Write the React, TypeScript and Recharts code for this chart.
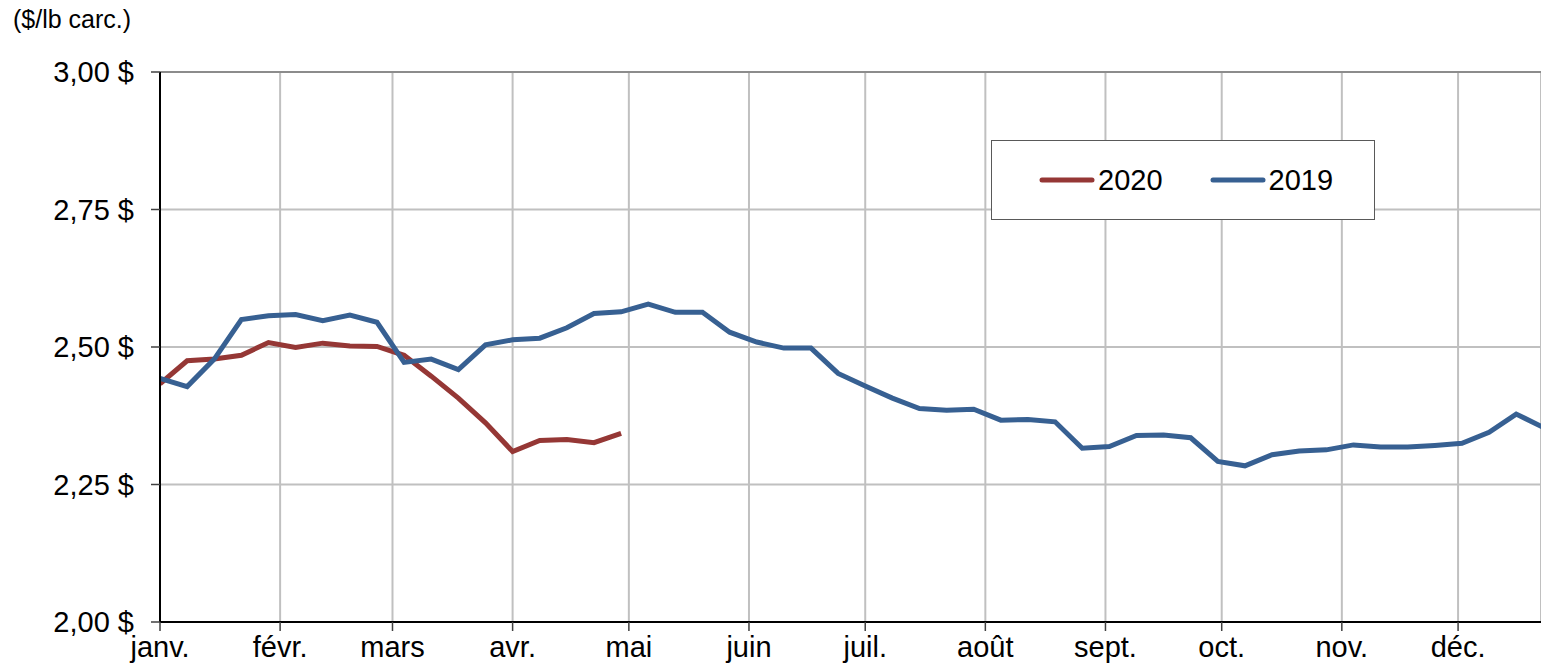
import { LineChart, Line, XAxis, YAxis, CartesianGrid, Legend, ReferenceLine } from 'recharts';

// day offsets (from Jan 1) of each month start, and their labels
const monthTicks = [0, 31, 60, 91, 121, 152, 182, 213, 244, 274, 305, 335];
const monthLabels = ['janv.', 'févr.', 'mars', 'avr.', 'mai', 'juin', 'juil.', 'août', 'sept.', 'oct.', 'nov.', 'déc.'];

const yTicks = [2, 2.25, 2.5, 2.75, 3];

// weekly prices ($/lb carcass)
const prices2019 = [
  2.443, 2.428, 2.478, 2.55, 2.557, 2.559, 2.548, 2.558, 2.545, 2.472, 2.478, 2.459, 2.504,
  2.513, 2.516, 2.535, 2.561, 2.564, 2.578, 2.563, 2.563, 2.527, 2.509, 2.498, 2.498, 2.452,
  2.429, 2.407, 2.388, 2.385, 2.387, 2.367, 2.368, 2.364, 2.316, 2.319, 2.339, 2.34, 2.335,
  2.292, 2.284, 2.304, 2.311, 2.313, 2.322, 2.318, 2.318, 2.321, 2.325, 2.345, 2.378, 2.354,
];

const prices2020 = [
  2.433, 2.475, 2.478, 2.485, 2.508, 2.499, 2.507, 2.502, 2.501, 2.485, 2.447, 2.407, 2.362,
  2.31, 2.33, 2.332, 2.326, 2.343,
];

const legendOrder = ['2020', '2019'];

const WEEK = 7;
const FONT = '"Liberation Sans", Arial, sans-serif';
const RED = '#953735';
const BLUE = '#376092';

const data = prices2019.map((v, i) => ({
  day: i * WEEK,
  y2019: v,
  y2020: i < prices2020.length ? prices2020[i] : null,
}));

const formatPrice = (v: number) => v.toFixed(2).replace('.', ',') + ' $';
const formatMonth = (d: number) => monthLabels[monthTicks.indexOf(d)] ?? '';

function LegendBox({ payload }: any) {
  const items = [...(payload || [])].sort(
    (a: any, b: any) => legendOrder.indexOf(a.value) - legendOrder.indexOf(b.value)
  );
  return (
    <div
      style={{
        width: 384,
        height: 80,
        boxSizing: 'border-box',
        border: '1px solid #595959',
        background: '#fff',
        display: 'flex',
        alignItems: 'center',
        paddingLeft: 46,
        fontFamily: FONT,
        fontSize: 29,
        color: '#000',
      }}
    >
      {items.map((item: any) => (
        <div key={item.value} style={{ display: 'flex', alignItems: 'center', marginRight: 46 }}>
          <svg width={58} height={8} style={{ marginRight: 2 }}>
            <line x1={4} y1={4} x2={54} y2={4} stroke={item.color} strokeWidth={5} strokeLinecap="round" />
          </svg>
          <span>{item.value}</span>
        </div>
      ))}
    </div>
  );
}

export default function App() {
  return (
    <div style={{ position: 'absolute', left: 0, top: 0, width: 1541, height: 666, fontFamily: FONT, background: '#fff' }}>
      <div style={{ position: 'absolute', left: 13, top: 4, fontSize: 25, color: '#000', lineHeight: '30px' }}>
        ($/lb carc.)
      </div>
      <LineChart width={1541} height={666} data={data} margin={{ top: 72, right: 0, bottom: 0, left: 0 }}>
        <CartesianGrid stroke="#c0c0c0" strokeWidth={2} />
        <XAxis
          dataKey="day"
          type="number"
          domain={[0, 356.4]}
          allowDataOverflow
          ticks={monthTicks}
          interval={0}
          tickFormatter={formatMonth}
          height={44}
          tickSize={9}
          tickMargin={5}
          axisLine={{ stroke: '#000', strokeWidth: 2 }}
          tickLine={{ stroke: '#404040', strokeWidth: 1.5 }}
          tick={{ fontSize: 29, fill: '#000', fontFamily: FONT }}
        />
        <YAxis
          type="number"
          domain={[2, 3]}
          ticks={yTicks}
          interval={0}
          tickFormatter={formatPrice}
          width={160}
          tickSize={9}
          tickMargin={17}
          axisLine={{ stroke: '#000', strokeWidth: 2 }}
          tickLine={{ stroke: '#404040', strokeWidth: 1.5 }}
          tick={{ fontSize: 29, fill: '#000', fontFamily: FONT }}
        />
        <ReferenceLine y={3} stroke="#8c8c8c" strokeWidth={2} />
        <Legend
          content={<LegendBox />}
          layout="horizontal"
          verticalAlign="middle"
          align="center"
          wrapperStyle={{ left: 991, top: 140, width: 384, height: 80 }}
        />
        <Line
          dataKey="y2020"
          name="2020"
          type="linear"
          stroke={RED}
          strokeWidth={5}
          dot={false}
          activeDot={false}
          isAnimationActive={false}
        />
        <Line
          dataKey="y2019"
          name="2019"
          type="linear"
          stroke={BLUE}
          strokeWidth={5}
          dot={false}
          activeDot={false}
          isAnimationActive={false}
        />
      </LineChart>
    </div>
  );
}
